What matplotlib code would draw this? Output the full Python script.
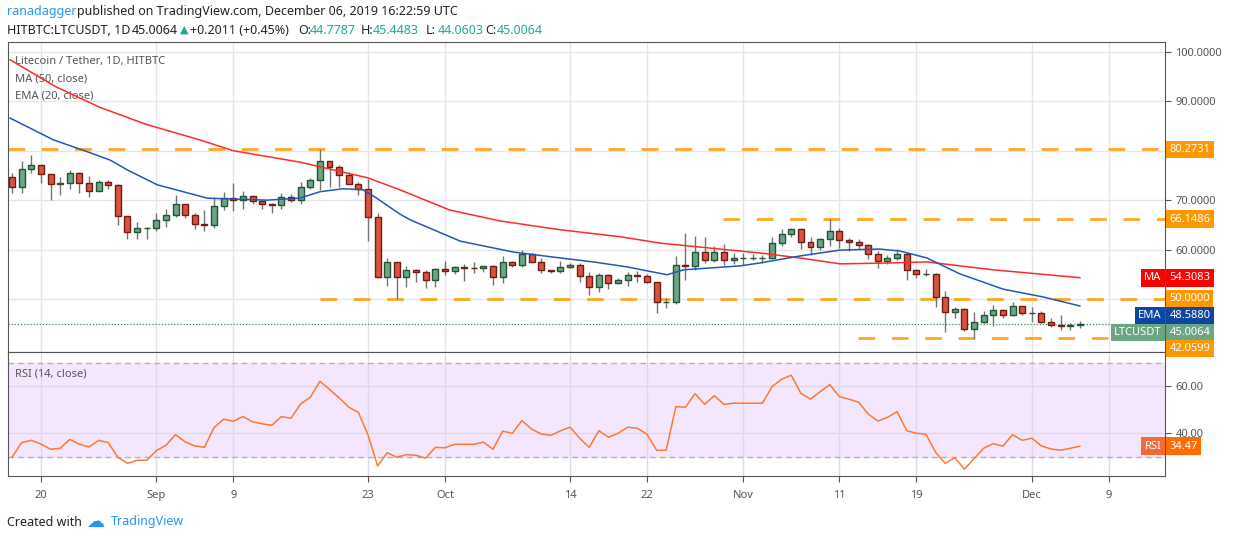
import matplotlib
matplotlib.use('Agg')
import matplotlib.pyplot as plt

# day 0 = 2019-08-17
closes = [72.7, 76.3, 77.1, 75.2, 73.2, 73.4, 75.4, 73.4, 71.9, 73.6, 73.0, 66.7, 63.5, 64.3, 64.3,
          65.9, 67.0, 69.2, 67.0, 65.1, 64.9, 68.8, 70.4, 70.0, 70.8, 69.8, 69.2, 69.0, 70.6, 70.1,
          72.6, 74.0, 77.9, 76.7, 75.0, 73.2, 72.2, 66.5, 54.5, 57.4, 54.5,
          55.8, 55.4, 53.8, 56.0, 55.6, 56.4, 56.3, 56.2, 56.6, 54.4, 57.4, 56.8, 59.0, 57.4, 55.8,
          55.6, 56.4, 56.8, 54.6, 52.4, 54.8, 53.2, 53.8, 54.8, 54.6, 53.4, 49.3, 49.4, 56.8, 56.6,
          59.6, 57.8, 59.6, 57.8, 58.2, 58.2, 58.2, 58.2, 61.3, 63.1, 64.1, 61.5, 60.5, 62.1, 63.7,
          61.9, 61.5, 60.9, 59.0, 57.6, 58.2, 59.0, 55.8, 55.0, 55.0, 50.5, 47.3, 47.9, 43.9, 45.3,
          46.7, 47.7, 46.7, 48.5, 47.1, 47.2, 45.3, 44.7, 44.5, 44.8, 45.0064]
opens = [74.6] + closes[:-1]
highs = [75.5, 77.9, 79.1, 77.2, 75.3, 74.7, 76.1, 75.6, 74.9, 74.0, 74.0, 73.2, 66.7, 65.5, 64.6,
         67.4, 68.2, 71.0, 69.3, 67.4, 68.0, 70.6, 71.6, 73.4, 71.9, 70.7, 70.0, 69.4, 71.5, 71.3,
         73.7, 74.4, 80.3, 78.0, 77.1, 75.6, 73.7, 74.2, 67.4, 58.2, 57.5,
         56.7, 56.0, 55.9, 56.2, 57.7, 56.7, 57.1, 57.4, 56.7, 56.9, 58.7, 57.6, 59.9, 59.4, 58.2,
         55.9, 57.7, 57.2, 57.2, 55.4, 55.2, 55.0, 54.2, 55.4, 55.7, 55.0, 53.4, 50.1, 58.7, 63.4,
         62.8, 62.6, 60.7, 61.1, 59.4, 59.3, 59.2, 58.9, 62.6, 64.2, 64.3, 64.3, 62.5, 62.3, 66.2,
         64.4, 62.3, 62.2, 61.2, 59.8, 58.9, 60.1, 59.5, 56.0, 56.1, 55.2, 51.7, 48.3, 48.1, 47.4,
         47.6, 48.8, 48.0, 49.4, 48.6, 48.3, 47.6, 46.2, 46.8, 45.1, 45.4483]
lows = [71.5, 71.5, 75.4, 73.5, 70.0, 71.0, 72.3, 71.4, 70.7, 72.5, 72.2, 64.9, 62.1, 62.1, 62.2,
        63.8, 64.6, 66.5, 66.3, 64.1, 63.8, 64.4, 68.0, 67.9, 68.3, 69.2, 68.3, 67.3, 68.2, 69.6,
        69.3, 72.2, 72.0, 72.7, 72.7, 73.6, 71.0, 61.8, 54.3, 52.7, 50.0,
        52.5, 53.5, 52.2, 52.4, 54.9, 55.1, 53.7, 55.2, 55.5, 52.8, 53.2, 56.4, 56.5, 57.2, 55.2,
        55.3, 55.3, 56.2, 53.4, 50.9, 51.5, 52.0, 53.0, 52.6, 53.5, 53.2, 47.1, 48.2, 48.9, 53.8,
        55.9, 57.3, 57.5, 56.8, 57.0, 56.9, 57.8, 57.3, 58.1, 60.7, 62.6, 60.2, 58.9, 59.9, 60.7,
        60.4, 59.7, 60.2, 58.0, 56.2, 57.0, 57.9, 53.9, 54.2, 54.7, 48.3, 43.4, 46.1, 43.5, 42.0,
        45.2, 44.5, 46.1, 46.6, 46.7, 45.4, 45.1, 44.3, 43.7, 43.7, 44.0603]

ma_days = [-0.2, 4.5, 9.1, 14.0, 19.5, 23, 29.9, 37, 40.3, 45.5, 50.7, 57, 63.2, 67.4, 71.5,
           77.8, 81.9, 86.1, 91.6, 95.1, 102, 111]
ma_vals = [98.4, 93.0, 88.8, 85.3, 82.2, 80.0, 77.7, 74.5, 72.1, 68.0, 65.8, 64.0, 62.6, 61.3,
           60.5, 59.3, 58.3, 57.1, 57.3, 57.5, 55.9, 54.3083]
ema_days = [-0.2, 4.3, 8.1, 10.2, 12, 15.1, 20.3, 26.5, 29.9, 32, 34.4, 36.5, 37.9, 40.3, 41.4,
            46.6, 52.1, 57, 60.4, 63.9, 68.1, 69.8, 75.7, 77.8, 81.9, 86.1, 90.2, 92.3, 95.1,
            98.5, 103, 107.2, 111]
ema_vals = [86.6, 82.2, 79.6, 78.1, 76.1, 73.1, 70.4, 70.0, 70.4, 71.7, 72.3, 72.1, 70.4, 67.2,
            66.0, 61.7, 59.5, 58.3, 57.5, 56.5, 54.9, 55.9, 56.7, 57.3, 58.7, 59.9, 60.1, 59.7,
            58.3, 55.1, 52.0, 50.4, 48.588]

rsi = [29.8, 36.0, 37.0, 35.4, 33.2, 33.6, 37.4, 35.3, 34.2, 37.0, 36.0, 29.8, 27.2, 28.5, 28.5,
       32.6, 34.9, 39.4, 36.3, 34.6, 34.0, 42.4, 46.0, 45.1, 47.1, 44.9, 44.0, 43.4, 47.1, 46.4,
       52.5, 55.3, 62.1, 58.7, 55.1, 51.1, 48.9, 39.3, 26.1, 31.7, 29.8, 30.9, 30.6, 29.4, 34.0,
       33.8, 35.3, 35.3, 35.3, 36.2, 33.2, 40.9, 40.0, 45.4, 41.8, 39.7, 39.1, 41.0,
       42.6, 37.9, 34.0, 41.1, 38.3, 40.0, 42.6, 42.1, 39.6, 32.8, 32.8, 51.3, 51.1, 56.9, 52.3,
       56.0, 52.3, 52.8, 52.8, 52.8, 52.8, 59.8, 63.0, 64.7, 57.0, 54.5, 57.7, 60.7, 55.6, 54.5,
       53.2, 48.2, 45.2, 46.8, 49.2, 41.1, 40.0, 39.6, 31.9, 27.2, 29.6, 24.7, 29.2, 33.6, 35.6,
       34.5, 39.4, 37.0, 37.9, 34.6, 33.3, 32.8, 33.6, 34.47]

# horizontal levels and the day each dashed line starts
levels = [80.2731, 66.1486, 50.0, 42.0599]
level_start = [-0.4, 73.9, 32.0, 87.9]

tick_days = [3, 15, 23, 37, 45, 58, 66, 76, 86, 94, 106, 114]
tick_labels = ['20', 'Sep', '9', '23', 'Oct', '14', '22', 'Nov', '11', '19', 'Dec', '9']
price_ticks = [50, 60, 70, 80, 90, 100]
shown_ticks = [60, 70, 90, 100]

UP = '#6ba583'
UP_EDGE = '#225437'
DOWN = '#d75442'
DOWN_EDGE = '#6f1d12'
WICK = '#737375'
ORANGE = '#ff9800'
GRID = '#e6e6e6'
TXT = '#555555'
TEAL = '#26a69a'
FS = 8

plt.rcParams['font.family'] = ['Noto Sans', 'DejaVu Sans']
fig = plt.figure(figsize=(12.34, 5.4), dpi=100)
W, H = 1234, 540
ax = fig.add_axes([8 / W, 1 - 352 / H, 1157 / W, 310 / H])
ax2 = fig.add_axes([8 / W, 1 - 476 / H, 1157 / W, 124 / H], sharex=ax)

n = len(closes)
days = list(range(n))
for i in days:
    o, c = opens[i], closes[i]
    up = c >= o
    lo, hi = min(o, c), max(o, c)
    ax.vlines(i, min(lows[i], lo), max(highs[i], hi), color=WICK, linewidth=1, zorder=2)
    ax.bar(i, max(hi - lo, 0.05), bottom=lo, width=0.62,
           color=UP if up else DOWN, edgecolor=UP_EDGE if up else DOWN_EDGE,
           linewidth=1, zorder=3)

ax.plot(ma_days, ma_vals, color='#ff2a2a', linewidth=1.1, zorder=4)
ax.plot(ema_days, ema_vals, color='#2457b5', linewidth=1.1, zorder=4)

for v, s in zip(levels, level_start):
    ax.hlines(v, s, 120, color=ORANGE, linewidth=2, linestyles=(0, (6, 6)), alpha=0.85, zorder=1)
ax.axhline(closes[-1], color='#3d8a5c', linewidth=0.9, linestyle=(0, (1, 1.5)), zorder=1)

ax.set_xlim(-0.42, 119.85)
ax.set_ylim(39.27, 102.0)
ax.set_xticks(tick_days)
ax.tick_params(axis='x', length=0, labelbottom=False)
ax.yaxis.tick_right()
ax.set_yticks(price_ticks)
ax.set_yticklabels([('%.4f' % p) if p in shown_ticks else '' for p in price_ticks])
ax.tick_params(axis='y', colors=TXT, labelsize=FS, length=4, labelcolor=TXT)
ax.grid(color=GRID, linewidth=1)
ax.set_axisbelow(True)
for sp in ax.spines.values():
    sp.set_color('#555555')

ax.text(0.006, 0.93, 'Litecoin / Tether, 1D, HITBTC', transform=ax.transAxes, color=TXT, fontsize=FS)
ax.text(0.006, 0.873, 'MA (50, close)', transform=ax.transAxes, color=TXT, fontsize=FS)
ax.text(0.006, 0.818, 'EMA (20, close)', transform=ax.transAxes, color=TXT, fontsize=FS)

lab_tr = ax.get_yaxis_transform()


def box(a, tr, x, y, s, col, ha='left'):
    a.text(x, y, s, transform=tr, ha=ha, va='center', color='white', fontsize=FS, clip_on=False,
           bbox=dict(boxstyle='square,pad=0.3', facecolor=col, edgecolor='none'), zorder=10)


# label boxes are stacked by the chart so they do not overlap: positions shifted apart
box(ax, lab_tr, 1.004, levels[0], '%.4f' % levels[0], ORANGE)
box(ax, lab_tr, 1.004, levels[1], '%.4f' % levels[1], ORANGE)
box(ax, lab_tr, 1.004, 54.25, '%.4f' % ma_vals[-1], '#ff0000')
box(ax, lab_tr, 0.997, 54.25, 'MA', '#ff0000', ha='right')
box(ax, lab_tr, 1.004, 50.0, '%.4f' % levels[2], ORANGE)
box(ax, lab_tr, 1.004, 46.6, '%.4f' % ema_vals[-1], '#0d47a1')
box(ax, lab_tr, 0.997, 46.6, 'EMA', '#0d47a1', ha='right')
box(ax, lab_tr, 1.004, 43.2, '%.4f' % closes[-1], UP)
box(ax, lab_tr, 0.997, 43.2, 'LTCUSDT', UP, ha='right')
box(ax, lab_tr, 1.004, 40.0, '%.4f' % levels[3], ORANGE)

# RSI panel
ax2.axhspan(30, 70, color='#f3e6fd', zorder=0)
ax2.axhline(70, color='#b8aebd', linewidth=1, linestyle=(0, (4, 3)))
ax2.axhline(30, color='#b8aebd', linewidth=1, linestyle=(0, (4, 3)))
ax2.plot(days, rsi, color='#ff7a2e', linewidth=1.1, zorder=3)
ax2.set_ylim(21.8, 74.6)
ax2.yaxis.tick_right()
ax2.set_yticks([40, 60])
ax2.set_yticklabels(['40.00', '60.00'])
ax2.tick_params(axis='y', colors=TXT, labelsize=FS, length=4)
ax2.set_xticks(tick_days)
ax2.set_xticklabels(tick_labels)
ax2.tick_params(axis='x', colors=TXT, labelsize=FS, length=4, pad=6)
ax2.grid(color='#e0d8e6', linewidth=1)
ax2.set_axisbelow(True)
for sp in ax2.spines.values():
    sp.set_color('#555555')
ax2.text(0.006, 0.8, 'RSI (14, close)', transform=ax2.transAxes, color=TXT, fontsize=FS)
tr2 = ax2.get_yaxis_transform()
box(ax2, tr2, 1.004, rsi[-1], '%.2f' % rsi[-1], '#ff6d00')
box(ax2, tr2, 0.997, rsi[-1], 'RSI', '#f26a35', ha='right')

# header
y1, y2 = 1 - 12 / H, 1 - 30 / H
fig.text(7 / W, y1, 'ranadagger', fontsize=9, color='#2196f3', va='center')
fig.text(77 / W, y1, 'published on TradingView.com, December 06, 2019 16:22:59 UTC',
         fontsize=9, color='#222222', va='center')
fig.text(7 / W, y2, 'HITBTC:LTCUSDT, 1D', fontsize=9, color='#222222', va='center', fontweight='bold')
fig.text(132 / W, y2, '45.0064', fontsize=9, color='#222222', va='center')
fig.text(180 / W, y2, '\u25b2', fontsize=8, color=TEAL, va='center', family='DejaVu Sans')
fig.text(190 / W, y2, '+0.2011 (+0.45%)', fontsize=9, color='#222222', va='center')
for lab, val, x in [('O:', '44.7787', 298), ('H:', '45.4483', 361), ('L:', '44.0603', 426),
                    ('C:', '45.0064', 485)]:
    fig.text(x / W, y2, lab, fontsize=9, color='#222222', va='center', fontweight='bold')
    fig.text((x + 12) / W, y2, val, fontsize=9, color=TEAL, va='center')

# footer
fig.text(7 / W, 1 - 522 / H, 'Created with', fontsize=9, color='#222222', va='center')
fig.text(86 / W, 1 - 522 / H, '\u2601', fontsize=13, color='#2196f3', va='center', family='DejaVu Sans')
fig.text(111 / W, 1 - 522 / H, 'TradingView', fontsize=9, color='#2196f3', va='center')

fig.savefig('out.png', dpi=100)
